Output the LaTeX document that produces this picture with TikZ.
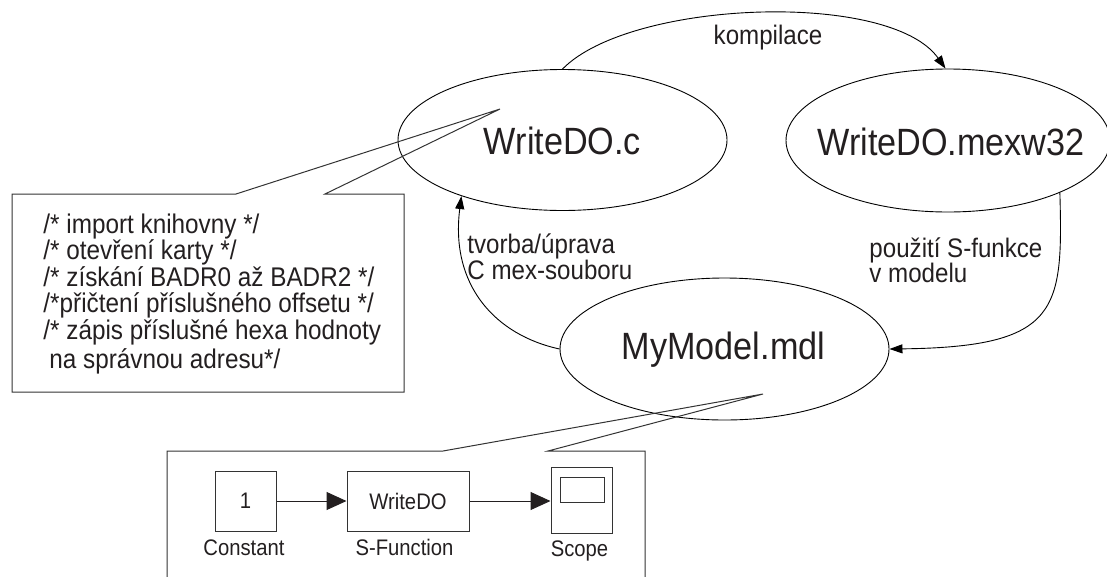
\documentclass[tikz,border=0pt]{standalone}
\usepackage{fontspec}
\setmainfont{Liberation Sans}[FakeStretch=0.9]
\usetikzlibrary{shapes.geometric,arrows.meta}
\definecolor{ink}{HTML}{231F20}
\definecolor{boxline}{HTML}{333333}
\begin{document}
\begin{tikzpicture}[x=1pt,y=-1pt, line width=0.9pt,
  every node/.style={text=ink},
  ell/.style={draw, ellipse, inner sep=0pt},
  big/.style={inner sep=0pt, font=\fontsize{38}{44}\selectfont, text height=27pt, text depth=0pt},
  lbl/.style={inner sep=0pt, anchor=base west, font=\fontsize{26.8}{30}\selectfont},
  boxtxt/.style={inner sep=0pt, anchor=base west, font=\fontsize{27}{30}\selectfont},
  blk/.style={draw=boxline, inner sep=0pt, line width=1pt},
  sml/.style={inner sep=0pt, font=\fontsize{22.5}{26}\selectfont},
  arr/.style={-{Triangle[length=13pt,width=9pt]}},
  sarr/.style={-{Triangle[length=20pt,width=18pt]}, line width=1pt, draw=ink}
]
\useasboundingbox (0,0) rectangle (1107,576);

% main ellipses
\node[ell, minimum width=329pt, minimum height=141pt] (c) at (562.5,140) {};
\node[big] (ct) at (562.5,141) {WriteDO.c};
\node[ell, minimum width=324pt, minimum height=143pt] (mex) at (948,140.5) {};
\node[big] (mt) at (951,142) {WriteDO.mexw32};
\node[ell, minimum width=329pt, minimum height=142pt] (mdl) at (724.5,349) {};
\node[big] (dt) at (723.5,345.5) {MyModel.mdl};

% connectors
\draw[arr] (c.north) .. controls (630,0) and (890,-10) .. (mex.92);
\node[lbl, anchor=base] (kl) at (768,44) {kompilace};

\draw[arr] (mdl.west) .. controls (495,335) and (450,285) .. (c.209);
\node[lbl] (tl1) at (467,253) {tvorba/úprava};
\node[lbl] (tl2) at (467,279) {C mex-souboru};

\draw[arr] (mex.335) .. controls (1063,310) and (1060,347) .. (mdl.east);
\node[lbl] (pl1) at (869,257) {použití S-funkce};
\node[lbl] (pl2) at (869,282) {v modelu};

% callout 1
\draw[boxline, line width=1pt] (12,194) -- (236,194) -- (500,109) -- (325,194) -- (404,194) -- (404,392) -- (12,392) -- cycle;
\node[boxtxt] (b1) at (43,233) {/* import knihovny */};
\node[boxtxt] (b2) at (43,259.5) {/* otevření karty */};
\node[boxtxt] (b3) at (43,286) {/* získání BADR0 až BADR2 */};
\node[boxtxt] (b4) at (43,312.5) {/*přičtení příslušného offsetu */};
\node[boxtxt] (b5) at (43,339) {/* zápis příslušné hexa hodnoty};
\node[boxtxt] (b6) at (49,368) {na správnou adresu*/};

% callout 2
\draw[boxline, line width=1pt] (167,451) -- (443,451) -- (763,394) -- (548,451) -- (645,451) -- (645,600) -- (167,600) -- cycle;

% simulink model
\node[blk, sml, minimum width=61pt, minimum height=60pt] (k) at (245.5,501) {1};
\node[blk, sml, minimum width=122pt, minimum height=60pt] (s) at (408,501) {WriteDO};
\node[blk, minimum width=61pt, minimum height=66pt] (sc) at (581.5,500) {};
\node[blk, minimum width=44pt, minimum height=25pt] (scr) at (582,489.5) {};
\draw[sarr] (k.east) -- (s.west);
\draw[sarr] (s.east) -- (s.east -| sc.west);
\node[sml, anchor=base] (kn) at (244,555) {Constant};
\node[sml, anchor=base] (sn) at (404.5,555) {S-Function};
\node[sml, anchor=base] (scn) at (579.5,556) {Scope};
\end{tikzpicture}
\end{document}
